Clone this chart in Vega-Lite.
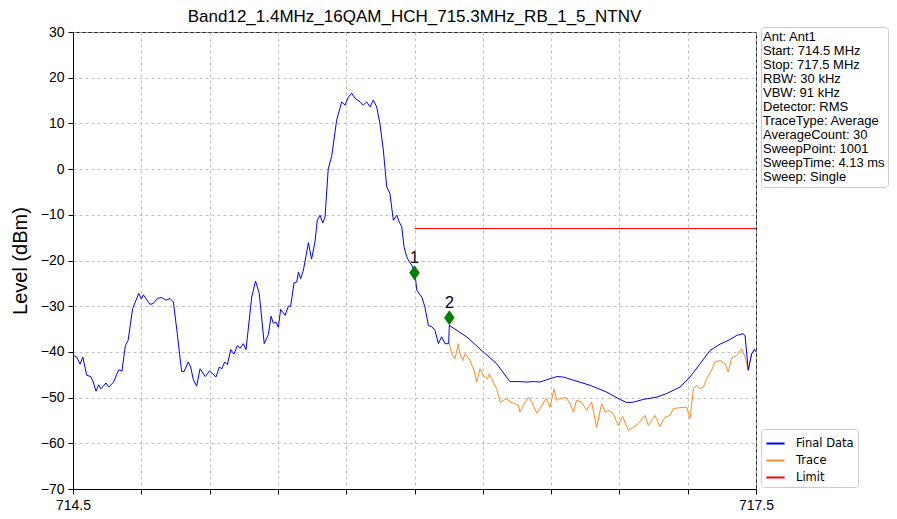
{
  "$schema": "https://vega.github.io/schema/vega-lite/v6.json",
  "autosize": "none",
  "width": 683,
  "height": 457,
  "padding": {"left": 73, "top": 32, "right": 141, "bottom": 30},
  "background": "white",
  "config": {
    "font": "Liberation Sans",
    "view": {"stroke": "#222", "strokeWidth": 1}
  },
  "title": {
    "text": "Band12_1.4MHz_16QAM_HCH_715.3MHz_RB_1_5_NTNV",
    "fontSize": 17,
    "fontWeight": "normal",
    "color": "#000",
    "anchor": "middle",
    "offset": -1
  },
  "datasets": {
    "spec": [
      {"series": "Final Data", "f": 714.501, "level": -40.8},
      {"series": "Final Data", "f": 714.516, "level": -41.1},
      {"series": "Final Data", "f": 714.531, "level": -42.7},
      {"series": "Final Data", "f": 714.543, "level": -41.1},
      {"series": "Final Data", "f": 714.560, "level": -45.1},
      {"series": "Final Data", "f": 714.578, "level": -45.4},
      {"series": "Final Data", "f": 714.589, "level": -46.6},
      {"series": "Final Data", "f": 714.601, "level": -48.6},
      {"series": "Final Data", "f": 714.613, "level": -47.2},
      {"series": "Final Data", "f": 714.622, "level": -48.1},
      {"series": "Final Data", "f": 714.645, "level": -46.8},
      {"series": "Final Data", "f": 714.657, "level": -47.7},
      {"series": "Final Data", "f": 714.677, "level": -46.7},
      {"series": "Final Data", "f": 714.701, "level": -43.9},
      {"series": "Final Data", "f": 714.715, "level": -44.2},
      {"series": "Final Data", "f": 714.730, "level": -38.6},
      {"series": "Final Data", "f": 714.742, "level": -37.5},
      {"series": "Final Data", "f": 714.762, "level": -30.5},
      {"series": "Final Data", "f": 714.789, "level": -27.2},
      {"series": "Final Data", "f": 714.800, "level": -28.4},
      {"series": "Final Data", "f": 714.809, "level": -27.5},
      {"series": "Final Data", "f": 714.838, "level": -29.6},
      {"series": "Final Data", "f": 714.853, "level": -29.4},
      {"series": "Final Data", "f": 714.870, "level": -28.3},
      {"series": "Final Data", "f": 714.890, "level": -28.1},
      {"series": "Final Data", "f": 714.909, "level": -28.7},
      {"series": "Final Data", "f": 714.926, "level": -28.3},
      {"series": "Final Data", "f": 714.941, "level": -29.1},
      {"series": "Final Data", "f": 714.958, "level": -36.0},
      {"series": "Final Data", "f": 714.977, "level": -44.3},
      {"series": "Final Data", "f": 714.988, "level": -44.3},
      {"series": "Final Data", "f": 715.006, "level": -42.2},
      {"series": "Final Data", "f": 715.017, "level": -43.3},
      {"series": "Final Data", "f": 715.028, "level": -46.0},
      {"series": "Final Data", "f": 715.043, "level": -47.5},
      {"series": "Final Data", "f": 715.058, "level": -43.7},
      {"series": "Final Data", "f": 715.081, "level": -45.4},
      {"series": "Final Data", "f": 715.099, "level": -44.2},
      {"series": "Final Data", "f": 715.114, "level": -44.8},
      {"series": "Final Data", "f": 715.128, "level": -45.5},
      {"series": "Final Data", "f": 715.143, "level": -43.3},
      {"series": "Final Data", "f": 715.154, "level": -43.7},
      {"series": "Final Data", "f": 715.166, "level": -42.2},
      {"series": "Final Data", "f": 715.178, "level": -42.8},
      {"series": "Final Data", "f": 715.193, "level": -39.5},
      {"series": "Final Data", "f": 715.207, "level": -40.5},
      {"series": "Final Data", "f": 715.222, "level": -38.6},
      {"series": "Final Data", "f": 715.234, "level": -39.2},
      {"series": "Final Data", "f": 715.248, "level": -38.2},
      {"series": "Final Data", "f": 715.260, "level": -39.5},
      {"series": "Final Data", "f": 715.285, "level": -28.0},
      {"series": "Final Data", "f": 715.302, "level": -24.5},
      {"series": "Final Data", "f": 715.318, "level": -27.2},
      {"series": "Final Data", "f": 715.340, "level": -38.2},
      {"series": "Final Data", "f": 715.358, "level": -36.2},
      {"series": "Final Data", "f": 715.370, "level": -32.2},
      {"series": "Final Data", "f": 715.380, "level": -33.7},
      {"series": "Final Data", "f": 715.392, "level": -33.5},
      {"series": "Final Data", "f": 715.402, "level": -34.6},
      {"series": "Final Data", "f": 715.412, "level": -30.7},
      {"series": "Final Data", "f": 715.432, "level": -32.0},
      {"series": "Final Data", "f": 715.446, "level": -30.0},
      {"series": "Final Data", "f": 715.456, "level": -30.0},
      {"series": "Final Data", "f": 715.471, "level": -24.9},
      {"series": "Final Data", "f": 715.483, "level": -24.7},
      {"series": "Final Data", "f": 715.490, "level": -22.5},
      {"series": "Final Data", "f": 715.500, "level": -24.0},
      {"series": "Final Data", "f": 715.512, "level": -22.1},
      {"series": "Final Data", "f": 715.534, "level": -16.1},
      {"series": "Final Data", "f": 715.548, "level": -19.7},
      {"series": "Final Data", "f": 715.563, "level": -15.9},
      {"series": "Final Data", "f": 715.573, "level": -11.2},
      {"series": "Final Data", "f": 715.585, "level": -10.1},
      {"series": "Final Data", "f": 715.597, "level": -11.8},
      {"series": "Final Data", "f": 715.607, "level": -10.5},
      {"series": "Final Data", "f": 715.621, "level": 0.0},
      {"series": "Final Data", "f": 715.636, "level": 2.7},
      {"series": "Final Data", "f": 715.658, "level": 10.7},
      {"series": "Final Data", "f": 715.680, "level": 14.7},
      {"series": "Final Data", "f": 715.695, "level": 14.0},
      {"series": "Final Data", "f": 715.709, "level": 15.7},
      {"series": "Final Data", "f": 715.724, "level": 16.6},
      {"series": "Final Data", "f": 715.739, "level": 15.5},
      {"series": "Final Data", "f": 715.761, "level": 14.7},
      {"series": "Final Data", "f": 715.775, "level": 14.0},
      {"series": "Final Data", "f": 715.790, "level": 14.7},
      {"series": "Final Data", "f": 715.805, "level": 13.6},
      {"series": "Final Data", "f": 715.819, "level": 15.1},
      {"series": "Final Data", "f": 715.834, "level": 13.6},
      {"series": "Final Data", "f": 715.848, "level": 10.0},
      {"series": "Final Data", "f": 715.863, "level": 4.2},
      {"series": "Final Data", "f": 715.878, "level": -3.9},
      {"series": "Final Data", "f": 715.892, "level": -5.3},
      {"series": "Final Data", "f": 715.907, "level": -11.2},
      {"series": "Final Data", "f": 715.922, "level": -10.1},
      {"series": "Final Data", "f": 715.933, "level": -11.6},
      {"series": "Final Data", "f": 715.944, "level": -12.6},
      {"series": "Final Data", "f": 715.954, "level": -17.0},
      {"series": "Final Data", "f": 715.966, "level": -19.2},
      {"series": "Final Data", "f": 715.977, "level": -20.3},
      {"series": "Final Data", "f": 715.988, "level": -21.0},
      {"series": "Final Data", "f": 716.002, "level": -22.7},
      {"series": "Final Data", "f": 716.010, "level": -26.5},
      {"series": "Final Data", "f": 716.032, "level": -28.0},
      {"series": "Final Data", "f": 716.046, "level": -30.2},
      {"series": "Final Data", "f": 716.061, "level": -34.2},
      {"series": "Final Data", "f": 716.076, "level": -34.5},
      {"series": "Final Data", "f": 716.090, "level": -35.3},
      {"series": "Final Data", "f": 716.105, "level": -38.2},
      {"series": "Final Data", "f": 716.119, "level": -36.7},
      {"series": "Final Data", "f": 716.134, "level": -38.2},
      {"series": "Final Data", "f": 716.150, "level": -38.2},
      {"series": "Final Data", "f": 716.153, "level": -34.2},
      {"series": "Final Data", "f": 716.229, "level": -36.7},
      {"series": "Final Data", "f": 716.302, "level": -40.0},
      {"series": "Final Data", "f": 716.361, "level": -42.6},
      {"series": "Final Data", "f": 716.419, "level": -46.5},
      {"series": "Final Data", "f": 716.463, "level": -46.5},
      {"series": "Final Data", "f": 716.493, "level": -46.6},
      {"series": "Final Data", "f": 716.522, "level": -46.5},
      {"series": "Final Data", "f": 716.551, "level": -46.6},
      {"series": "Final Data", "f": 716.581, "level": -46.1},
      {"series": "Final Data", "f": 716.625, "level": -45.4},
      {"series": "Final Data", "f": 716.654, "level": -45.5},
      {"series": "Final Data", "f": 716.698, "level": -46.2},
      {"series": "Final Data", "f": 716.771, "level": -47.3},
      {"series": "Final Data", "f": 716.844, "level": -48.8},
      {"series": "Final Data", "f": 716.903, "level": -50.4},
      {"series": "Final Data", "f": 716.932, "level": -51.1},
      {"series": "Final Data", "f": 716.961, "level": -51.0},
      {"series": "Final Data", "f": 717.005, "level": -50.4},
      {"series": "Final Data", "f": 717.064, "level": -49.9},
      {"series": "Final Data", "f": 717.108, "level": -49.1},
      {"series": "Final Data", "f": 717.166, "level": -47.7},
      {"series": "Final Data", "f": 717.210, "level": -45.5},
      {"series": "Final Data", "f": 717.254, "level": -42.6},
      {"series": "Final Data", "f": 717.298, "level": -39.7},
      {"series": "Final Data", "f": 717.342, "level": -38.3},
      {"series": "Final Data", "f": 717.386, "level": -37.3},
      {"series": "Final Data", "f": 717.415, "level": -36.4},
      {"series": "Final Data", "f": 717.444, "level": -36.0},
      {"series": "Final Data", "f": 717.452, "level": -36.5},
      {"series": "Final Data", "f": 717.466, "level": -44.0},
      {"series": "Final Data", "f": 717.481, "level": -40.4},
      {"series": "Final Data", "f": 717.493, "level": -39.5},
      {"series": "Final Data", "f": 717.500, "level": -40.0},
      {"series": "Trace", "f": 716.153, "level": -38.2},
      {"series": "Trace", "f": 716.163, "level": -40.4},
      {"series": "Trace", "f": 716.178, "level": -41.5},
      {"series": "Trace", "f": 716.192, "level": -38.2},
      {"series": "Trace", "f": 716.200, "level": -40.4},
      {"series": "Trace", "f": 716.212, "level": -41.9},
      {"series": "Trace", "f": 716.222, "level": -40.4},
      {"series": "Trace", "f": 716.244, "level": -41.9},
      {"series": "Trace", "f": 716.261, "level": -44.0},
      {"series": "Trace", "f": 716.273, "level": -46.6},
      {"series": "Trace", "f": 716.288, "level": -43.7},
      {"series": "Trace", "f": 716.302, "level": -45.1},
      {"series": "Trace", "f": 716.320, "level": -45.9},
      {"series": "Trace", "f": 716.329, "level": -44.8},
      {"series": "Trace", "f": 716.346, "level": -46.6},
      {"series": "Trace", "f": 716.361, "level": -48.1},
      {"series": "Trace", "f": 716.376, "level": -51.0},
      {"series": "Trace", "f": 716.390, "level": -50.6},
      {"series": "Trace", "f": 716.405, "level": -50.2},
      {"series": "Trace", "f": 716.419, "level": -51.0},
      {"series": "Trace", "f": 716.441, "level": -51.3},
      {"series": "Trace", "f": 716.456, "level": -51.7},
      {"series": "Trace", "f": 716.463, "level": -53.2},
      {"series": "Trace", "f": 716.478, "level": -51.7},
      {"series": "Trace", "f": 716.500, "level": -49.9},
      {"series": "Trace", "f": 716.515, "level": -51.0},
      {"series": "Trace", "f": 716.537, "level": -53.4},
      {"series": "Trace", "f": 716.551, "level": -52.4},
      {"series": "Trace", "f": 716.578, "level": -50.2},
      {"series": "Trace", "f": 716.595, "level": -52.1},
      {"series": "Trace", "f": 716.613, "level": -48.1},
      {"series": "Trace", "f": 716.625, "level": -50.6},
      {"series": "Trace", "f": 716.639, "level": -50.2},
      {"series": "Trace", "f": 716.665, "level": -50.0},
      {"series": "Trace", "f": 716.683, "level": -51.3},
      {"series": "Trace", "f": 716.698, "level": -53.2},
      {"series": "Trace", "f": 716.712, "level": -50.6},
      {"series": "Trace", "f": 716.734, "level": -51.0},
      {"series": "Trace", "f": 716.756, "level": -52.8},
      {"series": "Trace", "f": 716.778, "level": -51.0},
      {"series": "Trace", "f": 716.800, "level": -56.5},
      {"series": "Trace", "f": 716.822, "level": -51.3},
      {"series": "Trace", "f": 716.837, "level": -53.2},
      {"series": "Trace", "f": 716.851, "level": -52.8},
      {"series": "Trace", "f": 716.873, "level": -53.5},
      {"series": "Trace", "f": 716.895, "level": -56.1},
      {"series": "Trace", "f": 716.914, "level": -54.1},
      {"series": "Trace", "f": 716.939, "level": -57.2},
      {"series": "Trace", "f": 716.961, "level": -56.5},
      {"series": "Trace", "f": 716.983, "level": -55.7},
      {"series": "Trace", "f": 717.012, "level": -53.9},
      {"series": "Trace", "f": 717.027, "level": -56.1},
      {"series": "Trace", "f": 717.056, "level": -53.9},
      {"series": "Trace", "f": 717.078, "level": -56.3},
      {"series": "Trace", "f": 717.100, "level": -54.3},
      {"series": "Trace", "f": 717.122, "level": -53.9},
      {"series": "Trace", "f": 717.137, "level": -52.4},
      {"series": "Trace", "f": 717.166, "level": -52.2},
      {"series": "Trace", "f": 717.196, "level": -52.1},
      {"series": "Trace", "f": 717.210, "level": -54.6},
      {"series": "Trace", "f": 717.225, "level": -48.1},
      {"series": "Trace", "f": 717.240, "level": -47.3},
      {"series": "Trace", "f": 717.254, "level": -48.1},
      {"series": "Trace", "f": 717.269, "level": -47.7},
      {"series": "Trace", "f": 717.280, "level": -46.2},
      {"series": "Trace", "f": 717.305, "level": -44.0},
      {"series": "Trace", "f": 717.320, "level": -42.2},
      {"series": "Trace", "f": 717.342, "level": -41.9},
      {"series": "Trace", "f": 717.364, "level": -42.6},
      {"series": "Trace", "f": 717.378, "level": -44.4},
      {"series": "Trace", "f": 717.393, "level": -41.3},
      {"series": "Trace", "f": 717.415, "level": -40.8},
      {"series": "Trace", "f": 717.437, "level": -39.3},
      {"series": "Trace", "f": 717.452, "level": -41.1},
      {"series": "Trace", "f": 717.466, "level": -44.0},
      {"series": "Trace", "f": 717.481, "level": -40.4},
      {"series": "Trace", "f": 717.493, "level": -39.5},
      {"series": "Trace", "f": 717.500, "level": -40.0},
      {"series": "Limit", "f": 716.0, "level": -13},
      {"series": "Limit", "f": 717.5, "level": -13}
    ],
    "markers": [
      {"label": "1", "f": 716.0, "level": -22.7},
      {"label": "2", "f": 716.153, "level": -32.5}
    ],
    "info": [
      {"line": "Ant: Ant1"},
      {"line": "Start: 714.5 MHz"},
      {"line": "Stop: 717.5 MHz"},
      {"line": "RBW: 30 kHz"},
      {"line": "VBW: 91 kHz"},
      {"line": "Detector: RMS"},
      {"line": "TraceType: Average"},
      {"line": "AverageCount: 30"},
      {"line": "SweepPoint: 1001"},
      {"line": "SweepTime: 4.13 ms"},
      {"line": "Sweep: Single"}
    ]
  },
  "layer": [
    {
      "encoding": {
        "x": {
          "field": "f",
          "type": "quantitative",
          "scale": {"domain": [714.5, 717.5], "nice": false, "zero": false},
          "axis": {
            "title": null,
            "values": [714.5, 714.8, 715.1, 715.4, 715.7, 716.0, 716.3, 716.6, 716.9, 717.2, 717.5],
            "labelExpr": "datum.value == 714.5 || datum.value == 717.5 ? format(datum.value, '.1f') : ''",
            "labelFlush": false,
            "labelFontSize": 14,
            "labelColor": "#000",
            "labelPadding": 4,
            "tickSize": 5,
            "tickColor": "#000",
            "domainColor": "#000",
            "grid": true,
            "gridDash": [3, 3],
            "gridColor": "#b0b0b0",
            "gridWidth": 0.8
          }
        },
        "y": {
          "field": "level",
          "type": "quantitative",
          "scale": {"domain": [-70, 30], "nice": false, "zero": false},
          "axis": {
            "title": "Level (dBm)",
            "titleFontSize": 20,
            "titleFontWeight": "normal",
            "titleColor": "#000",
            "titlePadding": 10,
            "values": [-70, -60, -50, -40, -30, -20, -10, 0, 10, 20, 30],
            "labelFlush": false,
            "labelFontSize": 14,
            "labelColor": "#000",
            "labelPadding": 4,
            "tickSize": 5,
            "tickColor": "#000",
            "domainColor": "#000",
            "grid": true,
            "gridDash": [3, 3],
            "gridColor": "#b0b0b0",
            "gridWidth": 0.8
          }
        }
      },
      "layer": [
        {
          "data": {"name": "spec"},
          "transform": [{"filter": "datum.series == 'Trace'"}],
          "mark": {"type": "line", "strokeWidth": 1, "clip": true},
          "encoding": {
            "color": {
              "field": "series",
              "type": "nominal",
              "scale": {"domain": ["Final Data", "Trace", "Limit"], "range": ["#0000ff", "#ff8c1a", "#ff0000"]},
              "legend": {
                "title": null,
                "orient": "none",
                "legendX": 688,
                "legendY": 397,
                "symbolType": "stroke",
                "symbolStrokeWidth": 2,
                "symbolSize": 330,
                "labelFont": "DejaVu Sans",
                "labelFontSize": 11.5,
                "labelColor": "#000",
                "labelOffset": 10,
                "rowPadding": 1,
                "padding": 4,
                "strokeColor": "#cccccc",
                "fillColor": "white",
                "cornerRadius": 3
              }
            }
          }
        },
        {
          "data": {"name": "spec"},
          "transform": [{"filter": "datum.series == 'Final Data'"}],
          "mark": {"type": "line", "strokeWidth": 1, "clip": true},
          "encoding": {"color": {"field": "series", "type": "nominal"}}
        },
        {
          "data": {"name": "spec"},
          "transform": [{"filter": "datum.series == 'Limit'"}],
          "mark": {"type": "line", "strokeWidth": 1.2, "clip": true},
          "encoding": {"color": {"field": "series", "type": "nominal"}}
        },
        {
          "data": {"name": "markers"},
          "mark": {"type": "point", "shape": "M0,-1L0.7,0L0,1L-0.7,0Z", "filled": true, "color": "#008000", "size": 225, "opacity": 1}
        },
        {
          "data": {"name": "markers"},
          "mark": {"type": "text", "dy": -15, "fontSize": 16, "color": "#000"},
          "encoding": {"text": {"field": "label"}}
        }
      ]
    },
    {
      "data": {"name": "info"},
      "mark": {"type": "point", "filled": true, "size": 0},
      "encoding": {
        "shape": {
          "field": "line",
          "type": "nominal",
          "sort": null,
          "legend": {
            "title": null,
            "orient": "none",
            "legendX": 688,
            "legendY": -5,
            "symbolSize": 1,
            "symbolOpacity": 0,
            "symbolStrokeWidth": 0,
            "labelOffset": -14,
            "labelFont": "Liberation Sans",
            "labelFontSize": 13,
            "labelColor": "#000",
            "labelLimit": 300,
            "rowPadding": 0,
            "padding": 3,
            "strokeColor": "#cccccc",
            "fillColor": "white",
            "cornerRadius": 3
          }
        }
      }
    }
  ]
}
